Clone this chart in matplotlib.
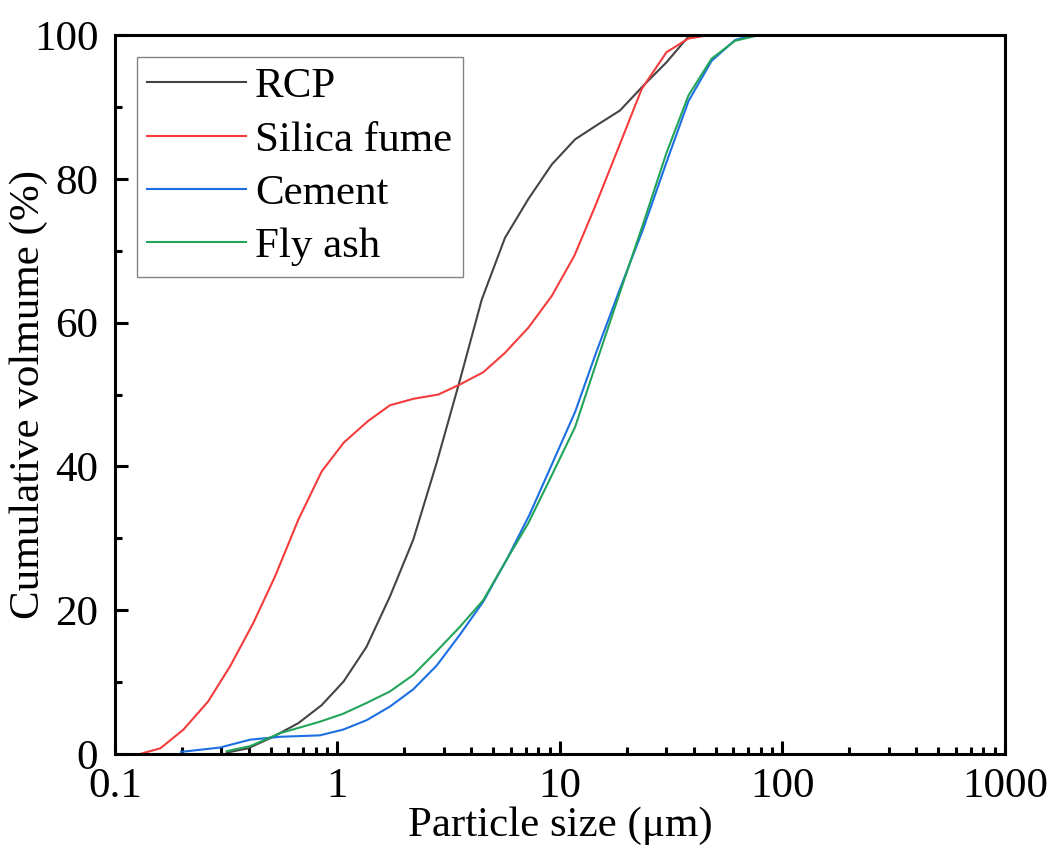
import numpy as np
import matplotlib
matplotlib.use("Agg")
import matplotlib.pyplot as plt
from matplotlib.ticker import LogLocator, MultipleLocator, NullFormatter

# particle size (um) and cumulative volume (%)
rcp_size = [0.318, 0.397, 0.514, 0.667, 0.849, 1.066, 1.35, 1.72, 2.19, 2.79, 3.55,
            4.45, 5.66, 7.21, 9.19, 11.7, 14.7, 18.6, 24.1, 30.1, 37.8, 45.0]
rcp_vol = [0.2, 0.8, 2.4, 4.3, 6.8, 10.1, 14.9, 21.9, 29.8, 40.5, 52.0,
           63.2, 71.8, 77.2, 82.0, 85.5, 87.5, 89.5, 93.2, 96.2, 99.8, 100.0]

sf_size = [0.129, 0.160, 0.203, 0.262, 0.329, 0.418, 0.524, 0.667, 0.849, 1.066, 1.37,
           1.72, 2.19, 2.84, 3.55, 4.52, 5.66, 7.21, 9.18, 11.6, 14.4, 18.3, 23.3,
           30.1, 37.7, 44.9, 55.0]
sf_vol = [0.0, 0.8, 3.4, 7.3, 12.2, 18.2, 24.7, 32.6, 39.3, 43.3, 46.3,
          48.5, 49.4, 50.0, 51.4, 53.1, 55.8, 59.3, 63.7, 69.3, 76.2, 84.3, 92.5,
          97.6, 99.5, 99.9, 100.0]

cem_size = [0.198, 0.296, 0.405, 0.552, 0.834, 1.06, 1.35, 1.72, 2.19, 2.79, 3.55,
            4.52, 5.75, 7.3, 9.2, 11.7, 14.6, 18.5, 23.5, 30.1, 37.8, 48.0, 61.2,
            69.5, 78.0]
cem_vol = [0.3, 0.9, 2.0, 2.4, 2.6, 3.4, 4.7, 6.6, 9.0, 12.3, 16.6,
           21.2, 27.0, 33.3, 40.3, 47.6, 56.0, 64.5, 72.8, 82.3, 90.8, 96.4, 99.3,
           99.8, 100.0]

fa_size = [0.318, 0.405, 0.552, 0.834, 1.06, 1.35, 1.72, 2.19, 2.79, 3.55,
           4.52, 5.7, 7.2, 9.0, 11.7, 14.6, 18.5, 23.5, 30.1, 37.8, 48.0, 61.2,
           76.5]
fa_vol = [0.4, 1.1, 2.9, 4.5, 5.6, 7.1, 8.7, 11.0, 14.3, 17.7,
          21.4, 26.8, 32.1, 38.2, 45.5, 54.5, 64.0, 73.5, 83.6, 91.6, 96.7, 99.2,
          99.9]

series = [
    ("RCP", rcp_size, rcp_vol, "#444444"),
    ("Silica fume", sf_size, sf_vol, "#f43c3c"),
    ("Cement", cem_size, cem_vol, "#1c6fe3"),
    ("Fly ash", fa_size, fa_vol, "#22a45a"),
]

x_ticks = [0.1, 1, 10, 100, 1000]
x_tick_labels = ["0.1", "1", "10", "100", "1000"]

plt.rcParams["font.family"] = ["Liberation Serif", "DejaVu Serif"]
plt.rcParams["font.size"] = 31

fig = plt.figure(figsize=(10.53, 8.48), dpi=100)
ax = fig.add_axes([0.1092, 0.1108, 0.8452, 0.8479])

for name, xs, ys, col in series:
    ax.plot(xs, ys, color=col, lw=1.5, label=name)

ax.set_xscale("log")
ax.set_xlim(0.1, 1000)
ax.set_ylim(0, 100)
ax.set_xticks(x_ticks)
ax.set_xticklabels(x_tick_labels)
ax.xaxis.set_minor_locator(LogLocator(base=10, subs=np.arange(2, 10), numticks=20))
ax.xaxis.set_minor_formatter(NullFormatter())
ax.yaxis.set_major_locator(MultipleLocator(20))
ax.yaxis.set_minor_locator(MultipleLocator(10))

for sp in ax.spines.values():
    sp.set_linewidth(2.2)
ax.tick_params(which="both", direction="in", top=False, right=False, width=2.2)
ax.tick_params(which="major", length=9.5, pad=10, labelsize=31)
ax.tick_params(which="minor", length=5)
ax.tick_params(axis="y", which="major", pad=12)

ax.set_xlabel("Particle size (μm)", fontsize=31, labelpad=0)
ax.set_ylabel("Cumulative volmume (%)", fontsize=31, labelpad=-10)

leg = ax.legend(loc="upper left", fontsize=31, frameon=True, fancybox=False,
                handlelength=2.3, handletextpad=0.2, labelspacing=0.33,
                borderaxespad=0.5, borderpad=0.25)
leg.get_frame().set_edgecolor("#666666")
leg.get_frame().set_linewidth(1.0)

fig.savefig("out.png", dpi=100)
